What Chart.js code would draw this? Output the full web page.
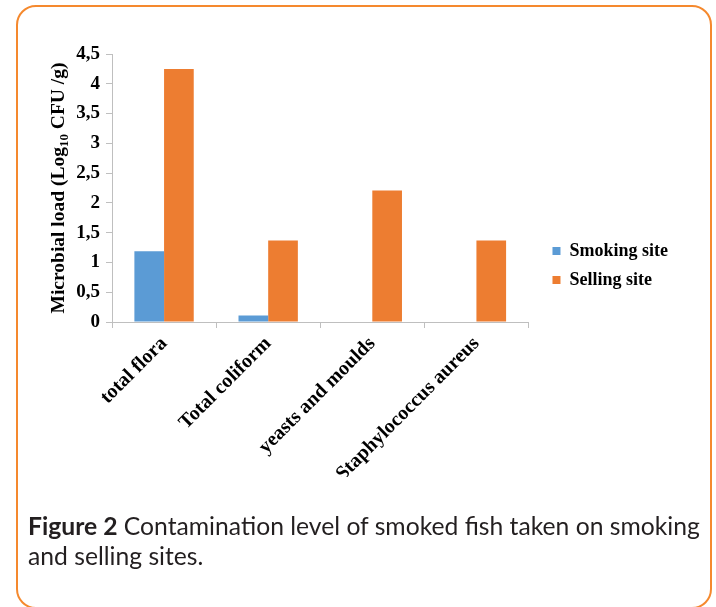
<!DOCTYPE html>
<html>
<head>
<meta charset="utf-8">
<script src="https://cdn.jsdelivr.net/npm/chart.js@4.4.1/dist/chart.umd.min.js"></script>
<style>
  html, body { margin: 0; padding: 0; background: #fff; }
  body { width: 716px; height: 607px; position: relative; overflow: hidden; }
  .frame {
    position: absolute; left: 16px; top: 5px; width: 696px; height: 604px;
    border: 2px solid #f5892e; border-radius: 20px; box-sizing: border-box;
  }
  #chart { position: absolute; left: 0; top: 0; }
  .caption {
    position: absolute; left: 28px; top: 511px;
    font-family: Lato, sans-serif; font-size: 24.7px; line-height: 30px;
    color: #231f20; white-space: nowrap;
  }
</style>
</head>
<body>
<div class="frame"></div>
<canvas id="chart" width="716" height="607"></canvas>
<div class="caption"><b>Figure 2</b> Contamination level of smoked fish taken on smoking<br>and selling sites.</div>
<script>
// microbial load per sample type, log10 CFU/g
const categories = ['total flora', 'Total coliform', 'yeasts and moulds', 'Staphylococcus aureus'];
const smokingSite = [1.19, 0.11, 0, 0];
const sellingSite = [4.25, 1.37, 2.21, 1.37];
const yTickLabels = ['0', '0,5', '1', '1,5', '2', '2,5', '3', '3,5', '4', '4,5'];

const serif = 'Liberation Serif';
const axisGrey = '#bfbfbf';

// rotated y title with a subscript on "Log10"
const yTitlePlugin = {
    id: 'yTitle',
    afterDraw(chart) {
        const ctx = chart.ctx;
        const area = chart.chartArea;
        const parts = [
            { text: 'Microbial load (Log', size: 19.5, dy: 0 },
            { text: '10', size: 13, dy: 4 },
            { text: ' CFU /g)', size: 19.5, dy: 0 }
        ];
        ctx.save();
        ctx.translate(64, (area.top + area.bottom) / 2);
        ctx.rotate(-Math.PI / 2);
        ctx.fillStyle = '#000';
        ctx.textBaseline = 'alphabetic';
        let total = 0;
        parts.forEach(p => {
            ctx.font = `bold ${p.size}px "${serif}"`;
            p.w = ctx.measureText(p.text).width;
            total += p.w;
        });
        let x = -total / 2;
        parts.forEach(p => {
            ctx.font = `bold ${p.size}px "${serif}"`;
            ctx.fillText(p.text, x, p.dy);
            x += p.w;
        });
        ctx.restore();
    }
};

new Chart(document.getElementById('chart'), {
    type: 'bar',
    data: {
        labels: categories,
        datasets: [{
            label: 'Smoking site',
            data: smokingSite,
            backgroundColor: '#5b9bd5',
            borderWidth: 0,
            barPercentage: 1,
            categoryPercentage: 0.57
        }, {
            label: 'Selling site',
            data: sellingSite,
            backgroundColor: '#ed7d31',
            borderWidth: 0,
            barPercentage: 1,
            categoryPercentage: 0.57
        }]
    },
    options: {
        responsive: false,
        animation: false,
        layout: {
            padding: { top: 54, bottom: 130, left: 0, right: 38 }
        },
        plugins: {
            tooltip: { enabled: false },
            legend: {
                position: 'right',
                align: 'center',
                maxWidth: 200,
                labels: {
                    boxWidth: 8,
                    boxHeight: 8,
                    padding: 11,
                    color: '#000',
                    font: { family: serif, size: 18, weight: 'bold' }
                }
            }
        },
        scales: {
            x: {
                ticks: {
                    color: '#000',
                    font: { family: serif, size: 20, weight: 'bold' },
                    minRotation: 45,
                    maxRotation: 45,
                    autoSkip: false,
                    padding: 4
                },
                grid: { drawOnChartArea: false, tickLength: 6, color: axisGrey, offset: true },
                border: { color: axisGrey },
                afterFit(scale) { scale.height = 155; }
            },
            y: {
                min: 0,
                max: 4.5,
                ticks: {
                    stepSize: 0.5,
                    color: '#000',
                    font: { family: serif, size: 19, weight: 'bold' },
                    padding: 6,
                    callback: (value, index) => yTickLabels[index]
                },
                grid: { drawOnChartArea: false, tickLength: 6, color: axisGrey },
                border: { color: axisGrey },
                afterFit(scale) { scale.width = 112; }
            },
            // empty axis, only keeps a gap between the plot and the legend
            spacer: {
                type: 'linear',
                axis: 'y',
                position: 'right',
                display: true,
                ticks: { display: false },
                grid: { display: false },
                border: { display: false },
                afterFit(scale) { scale.width = 13; }
            }
        }
    },
    plugins: [yTitlePlugin]
});
</script>
</body>
</html>
